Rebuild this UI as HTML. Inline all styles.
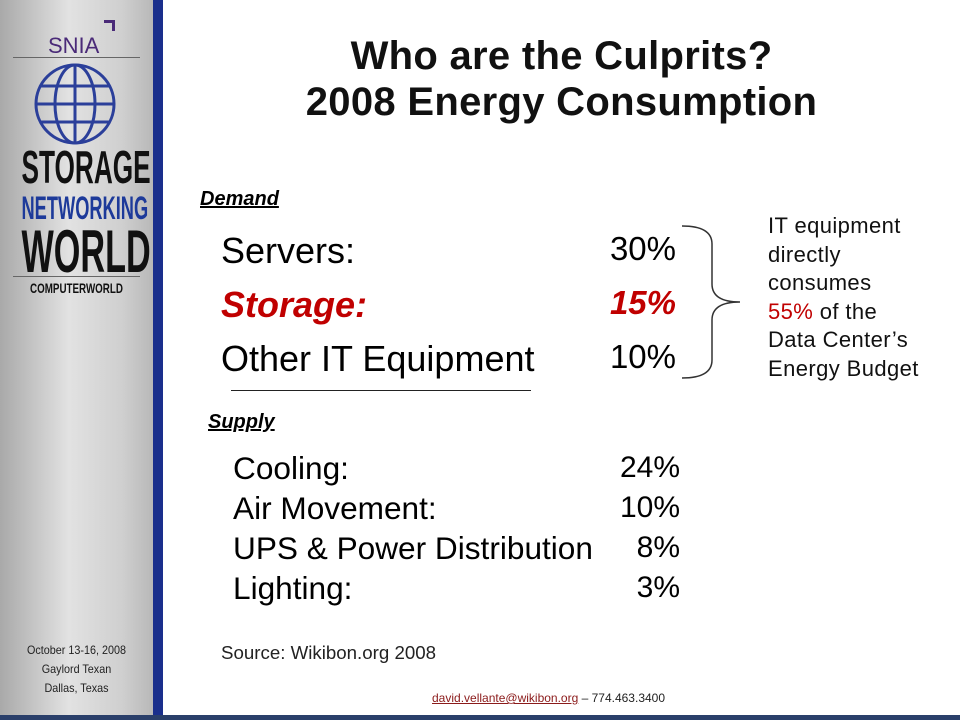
<!DOCTYPE html>
<html><head><style>
body{margin:0;width:960px;height:720px;position:relative;overflow:hidden;background:#fff;font-family:"Liberation Sans",sans-serif;}
.a{position:absolute;white-space:nowrap;}
#side{position:absolute;left:0;top:0;width:153px;height:720px;background:linear-gradient(90deg,#a9a9a9,#e2e2e2 45%,#cfcfcf 80%,#b8b8b8);}
#bar{position:absolute;left:153px;top:0;width:10px;height:720px;background:#1a2f8c;}
#bot{position:absolute;left:0;top:715px;width:960px;height:5px;background:#2a3f6a;}
.c{text-align:center;font-family:"Liberation Sans Narrow","Liberation Sans",sans-serif;font-weight:bold;transform:scaleX(0.57);}
.r{text-align:right;}
</style></head><body>
<div id="side"></div><div id="bar"></div><div id="bot"></div>
<div class="a" style="left:48px;top:33px;font-size:22px;color:#4a2a78;">SNIA</div>
<div class="a" style="left:104px;top:20px;width:8px;height:8px;border-top:3px solid #4a2a78;border-right:3px solid #4a2a78;"></div>
<div class="a" style="left:13px;top:57px;width:127px;height:1px;background:#666;"></div>
<svg class="a" style="left:33px;top:62px" width="84" height="84" viewBox="0 0 84 84"><g fill="none" stroke="#2b3f9a" stroke-width="3"><circle cx="42" cy="42" r="39"/><ellipse cx="42" cy="42" rx="20" ry="39"/><line x1="3" y1="42" x2="81" y2="42"/><line x1="42" y1="3" x2="42" y2="81"/><path d="M8 24 H76 M8 60 H76"/></g></svg>
<div class="a c" style="left:-20px;top:143px;width:193px;font-size:46px;color:#111;line-height:48px;">STORAGE</div>
<div class="a c" style="left:-20px;top:192px;width:193px;font-size:32px;color:#1d3a9a;line-height:32px;">NETWORKING</div>
<div class="a c" style="left:-20px;top:222px;width:193px;font-size:60px;color:#111;line-height:60px;">WORLD</div>
<div class="a" style="left:13px;top:276px;width:127px;height:1px;background:#666;"></div>
<div class="a c" style="left:-20px;top:280px;width:193px;font-size:14px;color:#111;transform:scaleX(0.7);">COMPUTERWORLD</div>
<div class="a" style="left:0;top:641px;width:153px;text-align:center;font-size:12px;line-height:19px;color:#222;transform:scaleX(0.9);">October 13-16, 2008<br>Gaylord Texan<br>Dallas, Texas</div>
<div class="a" style="left:163px;top:33px;width:797px;text-align:center;font-size:40px;letter-spacing:0.3px;font-weight:bold;line-height:46px;color:#111;">Who are the Culprits?<br>2008 Energy Consumption</div>
<div class="a" style="left:200px;top:188px;font-size:20px;font-weight:bold;font-style:italic;text-decoration:underline;">Demand</div>
<div class="a" style="left:221px;top:230px;font-size:36px;">Servers:</div>
<div class="a" style="left:221px;top:284px;font-size:36px;color:#c00000;font-weight:bold;font-style:italic;">Storage:</div>
<div class="a" style="left:221px;top:338px;font-size:36px;">Other IT Equipment</div>
<div class="a r" style="left:560px;width:116px;top:230px;font-size:33px;">30%</div>
<div class="a r" style="left:560px;width:116px;top:284px;font-size:33px;color:#c00000;font-weight:bold;font-style:italic;">15%</div>
<div class="a r" style="left:560px;width:116px;top:338px;font-size:33px;">10%</div>
<div class="a" style="left:231px;top:390px;width:300px;height:1px;background:#222;"></div>
<svg class="a" style="left:680px;top:224px" width="70" height="160"><path d="M2 2 Q32 2 32 20 V60 Q32 78 60 78 Q32 78 32 96 V136 Q32 154 2 154" fill="none" stroke="#333" stroke-width="1.5"/></svg>
<div class="a" style="left:768px;top:212px;font-size:22px;letter-spacing:0.4px;line-height:28.5px;color:#111;">IT equipment<br>directly<br>consumes<br><span style="color:#c00000">55%</span> of the<br>Data Center’s<br>Energy Budget</div>
<div class="a" style="left:208px;top:411px;font-size:20px;font-weight:bold;font-style:italic;text-decoration:underline;">Supply</div>
<div class="a" style="left:233px;top:448px;font-size:31.6px;line-height:40px;">Cooling:<br>Air Movement:<br>UPS &amp; Power Distribution<br>Lighting:</div>
<div class="a r" style="left:580px;width:100px;top:448px;font-size:30px;line-height:40px;">24%<br>10%<br>8%<br>3%</div>
<div class="a" style="left:221px;top:642px;font-size:18.7px;color:#222;">Source: Wikibon.org 2008</div>
<div class="a" style="left:432px;top:691px;font-size:12px;color:#222;"><span style="color:#8b1a1a;text-decoration:underline;">david.vellante@wikibon.org</span> – 774.463.3400</div>
</body></html>
